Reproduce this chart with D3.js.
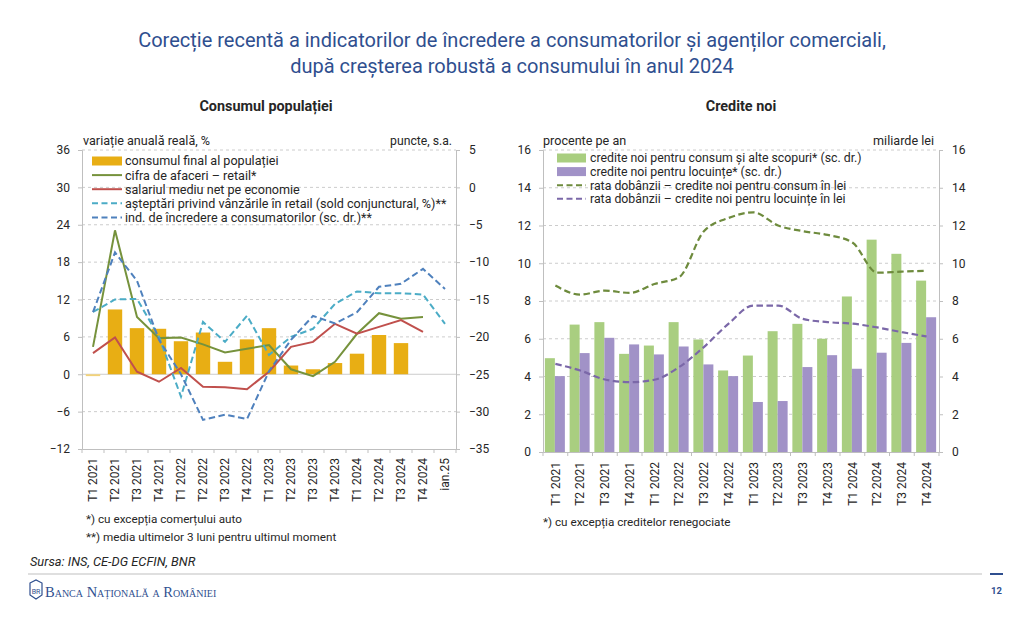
<!DOCTYPE html>
<html>
<head>
<meta charset="utf-8">
<script src="https://cdn.jsdelivr.net/npm/d3@7"></script>
<style>
  body { margin: 0; background: #fff; }
  text { font-family: Roboto, "Noto Sans", sans-serif; fill: #262626; }
</style>
</head>
<body>
<script>
// ---- date grafic stanga (Consumul populatiei) ----
const catsL = ["T1 2021", "T2 2021", "T3 2021", "T4 2021", "T1 2022", "T2 2022", "T3 2022", "T4 2022",
  "T1 2023", "T2 2023", "T3 2023", "T4 2023", "T1 2024", "T2 2024", "T3 2024", "T4 2024", "ian.25"];
const consum = [-0.3, 10.4, 7.4, 7.3, 5.3, 6.7, 2.0, 5.6, 7.4, 1.4, 0.8, 1.8, 3.3, 6.3, 5.0, null, null];
const retail = [4.4, 23.1, 9.2, 5.8, 5.9, 4.8, 3.5, 4.1, 4.7, 0.8, -0.3, 2.0, 6.5, 9.8, 8.9, 9.2, null];
const salariu = [3.4, 5.9, 0.4, -1.2, 1.0, -2.0, -2.1, -2.4, 0.4, 4.4, 5.2, 8.1, 6.5, 7.6, 8.7, 6.8, null];
const asteptari = [10.0, 12.0, 12.1, 6.0, -3.6, 8.4, 5.2, 9.4, 3.1, 6.0, 7.3, 11.3, 13.3, 13.0, 13.0, 12.8, 8.1];
const incredere = [-16.7, -8.7, -12.5, -20.4, -25.0, -31.1, -30.4, -31.0, -24.6, -20.4, -17.2, -18.2, -16.7, -13.3, -12.9, -10.9, -13.6];
const ticksL = [-12, -6, 0, 6, 12, 18, 24, 30, 36];
const ticksL2 = [-35, -30, -25, -20, -15, -10, -5, 0, 5];

// ---- date grafic dreapta (Credite noi) ----
const catsR = catsL.slice(0, 16);
const crConsum = [4.97, 6.75, 6.88, 5.2, 5.64, 6.88, 5.96, 4.32, 5.11, 6.4, 6.79, 6.0, 8.24, 11.25, 10.5, 9.08];
const crLocuinte = [4.02, 5.24, 6.05, 5.7, 5.17, 5.59, 4.64, 4.02, 2.65, 2.7, 4.5, 5.13, 4.41, 5.26, 5.78, 7.14];
const rataConsum = [8.82, 8.34, 8.55, 8.43, 8.9, 9.26, 11.7, 12.4, 12.7, 12.0, 11.7, 11.5, 11.1, 9.5, 9.56, 9.6];
const rataLocuinte = [4.67, 4.32, 3.84, 3.7, 3.83, 4.5, 5.56, 6.8, 7.76, 7.76, 7.05, 6.88, 6.8, 6.6, 6.35, 6.12];
const ticksR = [0, 2, 4, 6, 8, 10, 12, 14, 16];

const C = {
  yellow: "#E8AE14", green: "#76923C", red: "#C0504D", lblue: "#4BACC6", dblue: "#4F81BD",
  lgreen: "#A9CE80", purple: "#A192C7", dgreen: "#6E8B3D", dpurple: "#7B68A8",
  grid: "#BFBFBF", title: "#2F4F8F"
};

const svg = d3.select("body").append("svg").attr("width", 1024).attr("height", 626);
svg.append("rect").attr("width", 1024).attr("height", 626).attr("fill", "#fff");

// titlu
svg.append("text").attr("x", 512).attr("y", 47).attr("text-anchor", "middle")
  .style("font-size", "20px").style("fill", C.title)
  .text("Corecție recentă a indicatorilor de încredere a consumatorilor și agenților comerciali,");
svg.append("text").attr("x", 512).attr("y", 73).attr("text-anchor", "middle")
  .style("font-size", "20px").style("fill", C.title)
  .text("după creșterea robustă a consumului în anul 2024");

function styleAxis(g) {
  g.select(".domain").attr("stroke", C.grid);
  g.selectAll(".tick line").attr("stroke", C.grid);
  g.selectAll(".tick text").style("font-size", "12px").style("fill", "#262626")
    .style("font-family", "Roboto, sans-serif");
}

// ================= grafic stanga =================
const xL = d3.scaleBand().domain(catsL).range([82, 456]);
const yL = d3.scaleLinear().domain([-12, 36]).range([449, 150]);
const yL2 = d3.scaleLinear().domain([-35, 5]).range([449, 150]);
const cxL = (i) => xL(catsL[i]) + xL.bandwidth() / 2;

svg.append("text").attr("x", 266).attr("y", 111).attr("text-anchor", "middle")
  .style("font-size", "14.4px").style("font-weight", "bold").text("Consumul populației");
svg.append("text").attr("x", 83).attr("y", 145).style("font-size", "12.6px").text("variație anuală reală, %");
svg.append("text").attr("x", 452).attr("y", 145).attr("text-anchor", "end").style("font-size", "12.2px").text("puncte, s.a.");

svg.append("g").selectAll("line").data(ticksL.filter(d => d > -12)).join("line")
  .attr("x1", 82).attr("x2", 456).attr("y1", d => yL(d)).attr("y2", d => yL(d))
  .attr("stroke", C.grid).attr("stroke-width", 0.8)
  .attr("stroke-dasharray", d => d === 0 ? null : "3,3");

svg.append("g").attr("transform", "translate(82,0)")
  .call(d3.axisLeft(yL).tickValues(ticksL).tickSize(4).tickPadding(8)).call(styleAxis);
svg.append("g").attr("transform", "translate(456,0)")
  .call(d3.axisRight(yL2).tickValues(ticksL2).tickSize(4).tickPadding(9)).call(styleAxis);
const axL = svg.append("g").attr("transform", "translate(0,449)")
  .call(d3.axisBottom(xL).tickSize(0).tickPadding(0)).call(styleAxis);
axL.selectAll(".tick text").attr("transform", "rotate(-90)").attr("text-anchor", "end")
  .attr("x", -9).attr("y", 0).attr("dy", "0.35em").style("font-size", "12px");
svg.append("g").selectAll("line").data(d3.range(catsL.length + 1)).join("line")
  .attr("x1", i => 82 + i * xL.step()).attr("x2", i => 82 + i * xL.step())
  .attr("y1", 449).attr("y2", 453).attr("stroke", C.grid);

svg.append("g").selectAll("rect").data(consum.map((v, i) => ({ v, i })).filter(d => d.v != null)).join("rect")
  .attr("x", d => cxL(d.i) - 7.2).attr("width", 14.4)
  .attr("y", d => yL(Math.max(0, d.v))).attr("height", d => Math.abs(yL(d.v) - yL(0)))
  .attr("fill", d => d.v < 0 ? "#F2D27A" : C.yellow);

function lineL(data, scale, color, dash) {
  const gen = d3.line().defined(d => d != null).x((d, i) => cxL(i)).y(d => scale(d));
  svg.append("path").datum(data).attr("d", gen).attr("fill", "none")
    .attr("stroke", color).attr("stroke-width", 2).attr("stroke-dasharray", dash);
}
lineL(retail, yL, C.green, null);
lineL(salariu, yL, C.red, null);
lineL(asteptari, yL, C.lblue, "6.5,3.5");
lineL(incredere, yL2, C.dblue, "6.5,3.5");

const legL = [
  { t: "consumul final al populației", c: C.yellow, type: "bar" },
  { t: "cifra de afaceri – retail*", c: C.green, type: "line" },
  { t: "salariul mediu net pe economie", c: C.red, type: "line" },
  { t: "așteptări privind vânzările în retail (sold conjunctural, %)**", c: C.lblue, type: "dash" },
  { t: "ind. de încredere a consumatorilor (sc. dr.)**", c: C.dblue, type: "dash" }
];
const gl = svg.append("g").selectAll("g").data(legL).join("g")
  .attr("transform", (d, i) => `translate(92,${161 + i * 14.1})`);
gl.filter(d => d.type === "bar").append("rect").attr("x", 0).attr("y", -4.5).attr("width", 30).attr("height", 9).attr("fill", d => d.c);
gl.filter(d => d.type !== "bar").append("line").attr("x1", 0).attr("x2", 30).attr("stroke", d => d.c)
  .attr("stroke-width", 2).attr("stroke-dasharray", d => d.type === "dash" ? "6,3.5" : null);
gl.append("text").attr("x", 33).attr("dy", "0.35em").style("font-size", "12.6px").text(d => d.t);

svg.append("text").attr("x", 86).attr("y", 523).style("font-size", "11.7px").text("*) cu excepția comerțului auto");
svg.append("text").attr("x", 86).attr("y", 541).style("font-size", "11.7px").text("**) media ultimelor 3 luni pentru ultimul moment");

// ================= grafic dreapta =================
const xR = d3.scaleBand().domain(catsR).range([543, 939]);
const yR = d3.scaleLinear().domain([0, 16]).range([452, 150]);
const cxR = (i) => xR(catsR[i]) + xR.bandwidth() / 2;

svg.append("text").attr("x", 741).attr("y", 111).attr("text-anchor", "middle")
  .style("font-size", "14.4px").style("font-weight", "bold").text("Credite noi");
svg.append("text").attr("x", 543).attr("y", 145).style("font-size", "12.6px").text("procente pe an");
svg.append("text").attr("x", 934).attr("y", 145).attr("text-anchor", "end").style("font-size", "12.6px").text("miliarde lei");

svg.append("g").selectAll("line").data(ticksR.filter(d => d > 0)).join("line")
  .attr("x1", 543).attr("x2", 939).attr("y1", d => yR(d)).attr("y2", d => yR(d))
  .attr("stroke", C.grid).attr("stroke-width", 0.8).attr("stroke-dasharray", "3,3");

svg.append("g").attr("transform", "translate(543,0)")
  .call(d3.axisLeft(yR).tickValues(ticksR).tickSize(4).tickPadding(8)).call(styleAxis);
svg.append("g").attr("transform", "translate(939,0)")
  .call(d3.axisRight(yR).tickValues(ticksR).tickSize(4).tickPadding(9)).call(styleAxis);
const axR = svg.append("g").attr("transform", "translate(0,452)")
  .call(d3.axisBottom(xR).tickSize(0).tickPadding(0)).call(styleAxis);
axR.selectAll(".tick text").attr("transform", "rotate(-90)").attr("text-anchor", "end")
  .attr("x", -10).attr("y", 0).attr("dy", "0.35em").style("font-size", "12px");
svg.append("g").selectAll("line").data(d3.range(catsR.length + 1)).join("line")
  .attr("x1", i => 543 + i * xR.step()).attr("x2", i => 543 + i * xR.step())
  .attr("y1", 452).attr("y2", 456).attr("stroke", C.grid);

svg.append("g").selectAll("rect").data(crConsum).join("rect")
  .attr("x", (d, i) => cxR(i) - 10.5).attr("width", 10)
  .attr("y", d => yR(d)).attr("height", d => yR(0) - yR(d)).attr("fill", C.lgreen);
svg.append("g").selectAll("rect").data(crLocuinte).join("rect")
  .attr("x", (d, i) => cxR(i) - 0.5).attr("width", 10)
  .attr("y", d => yR(d)).attr("height", d => yR(0) - yR(d)).attr("fill", C.purple);

function lineR(data, color) {
  const gen = d3.line().x((d, i) => cxR(i)).y(d => yR(d)).curve(d3.curveMonotoneX);
  svg.append("path").datum(data).attr("d", gen).attr("fill", "none")
    .attr("stroke", color).attr("stroke-width", 2.2).attr("stroke-dasharray", "6.5,3.5");
}
lineR(rataConsum, C.dgreen);
lineR(rataLocuinte, C.dpurple);

const legR = [
  { t: "credite noi pentru consum și alte scopuri* (sc. dr.)", c: C.lgreen, type: "bar" },
  { t: "credite noi pentru locuințe* (sc. dr.)", c: C.purple, type: "bar" },
  { t: "rata dobânzii – credite noi pentru consum în lei", c: C.dgreen, type: "dash" },
  { t: "rata dobânzii – credite noi pentru locuințe în lei", c: C.dpurple, type: "dash" }
];
const gr = svg.append("g").selectAll("g").data(legR).join("g")
  .attr("transform", (d, i) => `translate(557,${158 + i * 13.6})`);
gr.filter(d => d.type === "bar").append("rect").attr("x", 0).attr("y", -4.5).attr("width", 29).attr("height", 9).attr("fill", d => d.c);
gr.filter(d => d.type !== "bar").append("line").attr("x1", 0).attr("x2", 29).attr("stroke", d => d.c)
  .attr("stroke-width", 2).attr("stroke-dasharray", "6,3.5");
gr.append("text").attr("x", 33).attr("dy", "0.35em").style("font-size", "12.3px").text(d => d.t);

svg.append("text").attr("x", 543).attr("y", 526).style("font-size", "11.7px").text("*) cu excepția creditelor renegociate");

// ================= subsol =================
svg.append("text").attr("x", 30).attr("y", 566).style("font-size", "12.8px").style("font-style", "italic")
  .text("Sursa: INS, CE-DG ECFIN, BNR");
svg.append("line").attr("x1", 28).attr("x2", 982).attr("y1", 574).attr("y2", 574).attr("stroke", "#BFBFBF").attr("stroke-width", 1.2);
svg.append("line").attr("x1", 990).attr("x2", 1003).attr("y1", 574).attr("y2", 574).attr("stroke", C.title).attr("stroke-width", 2);
const logo = svg.append("g").attr("transform", "translate(36,591)");
logo.append("path").attr("d", "M-6,-8 L0,-11 L6,-8 L6,4 L0,8 L-6,4 Z").attr("fill", "none").attr("stroke", C.title).attr("stroke-width", 1.2);
logo.append("text").attr("x", 0).attr("y", 3).attr("text-anchor", "middle").style("font-size", "7px").style("fill", C.title).text("BR");
svg.append("text").attr("x", 45).attr("y", 597).style("font-size", "14.5px").style("fill", C.title)
  .style("font-family", "'Liberation Serif', serif").style("font-variant", "small-caps")
  .text("Banca Națională a României");
svg.append("text").attr("x", 1002).attr("y", 594).attr("text-anchor", "end").style("font-size", "9.5px")
  .style("font-weight", "bold").style("fill", C.title).text("12");
</script>
</body>
</html>
